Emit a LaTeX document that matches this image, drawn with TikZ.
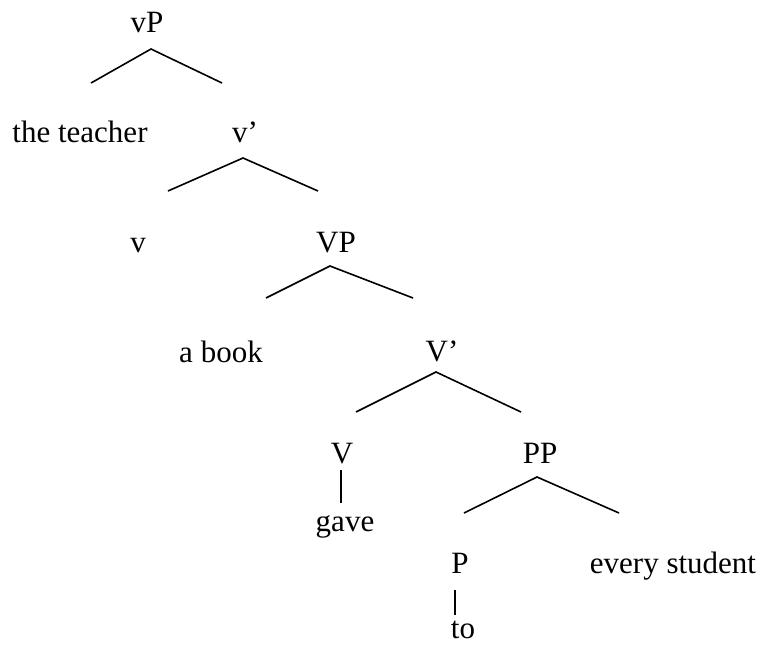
\documentclass[tikz,border=0pt]{standalone}
\usepackage{fontspec}
\setmainfont{Liberation Serif}

\begin{document}
\begin{tikzpicture}[x=1pt, y=-1pt,
    lbl/.style={anchor=base, inner sep=0pt, font=\fontsize{31}{37}\selectfont},
    branch/.style={line width=1.6pt, black}]
  \useasboundingbox (0,0) rectangle (765,646);

  % vP
  \node[lbl] (vP) at (147,32) {vP};
  \coordinate (vP-top) at (151,49);
  \coordinate (vP-l) at (91,83);
  \coordinate (vP-r) at (222,83);
  \draw[branch] (vP-l) -- (vP-top) -- (vP-r);
  \node[lbl] (teacher) at (80,142) {the teacher};
  \node[lbl] (vbar) at (245,142) {v'};

  % v'
  \coordinate (vbar-top) at (243,158);
  \coordinate (vbar-l) at (168,191);
  \coordinate (vbar-r) at (318,191);
  \draw[branch] (vbar-l) -- (vbar-top) -- (vbar-r);
  \node[lbl] (v) at (138,252) {v};
  \node[lbl] (VP) at (336,252) {VP};

  % VP
  \coordinate (VP-top) at (330,266);
  \coordinate (VP-l) at (266,298);
  \coordinate (VP-r) at (413,298);
  \draw[branch] (VP-l) -- (VP-top) -- (VP-r);
  \node[lbl] (book) at (221,362) {a book};
  \node[lbl] (Vbar) at (442,361) {V'};

  % V'
  \coordinate (Vbar-top) at (436,372);
  \coordinate (Vbar-l) at (356,412);
  \coordinate (Vbar-r) at (521,412);
  \draw[branch] (Vbar-l) -- (Vbar-top) -- (Vbar-r);
  \node[lbl] (V) at (342,463) {V};
  \node[lbl] (PP) at (540,463) {PP};

  % V -- gave
  \coordinate (V-bot) at (341,470);
  \coordinate (gave-top) at (341,503);
  \draw[branch] (V-bot) -- (gave-top);
  \node[lbl] (gave) at (345,531) {gave};

  % PP
  \coordinate (PP-top) at (537,477);
  \coordinate (PP-l) at (464,513);
  \coordinate (PP-r) at (619,513);
  \draw[branch] (PP-l) -- (PP-top) -- (PP-r);
  \node[lbl] (P) at (460,573) {P};
  \node[lbl] (student) at (673,573) {every student};

  % P -- to
  \coordinate (P-bot) at (455,590);
  \coordinate (to-top) at (455,615);
  \draw[branch] (P-bot) -- (to-top);
  \node[lbl] (to) at (463,638) {to};
\end{tikzpicture}
\end{document}
